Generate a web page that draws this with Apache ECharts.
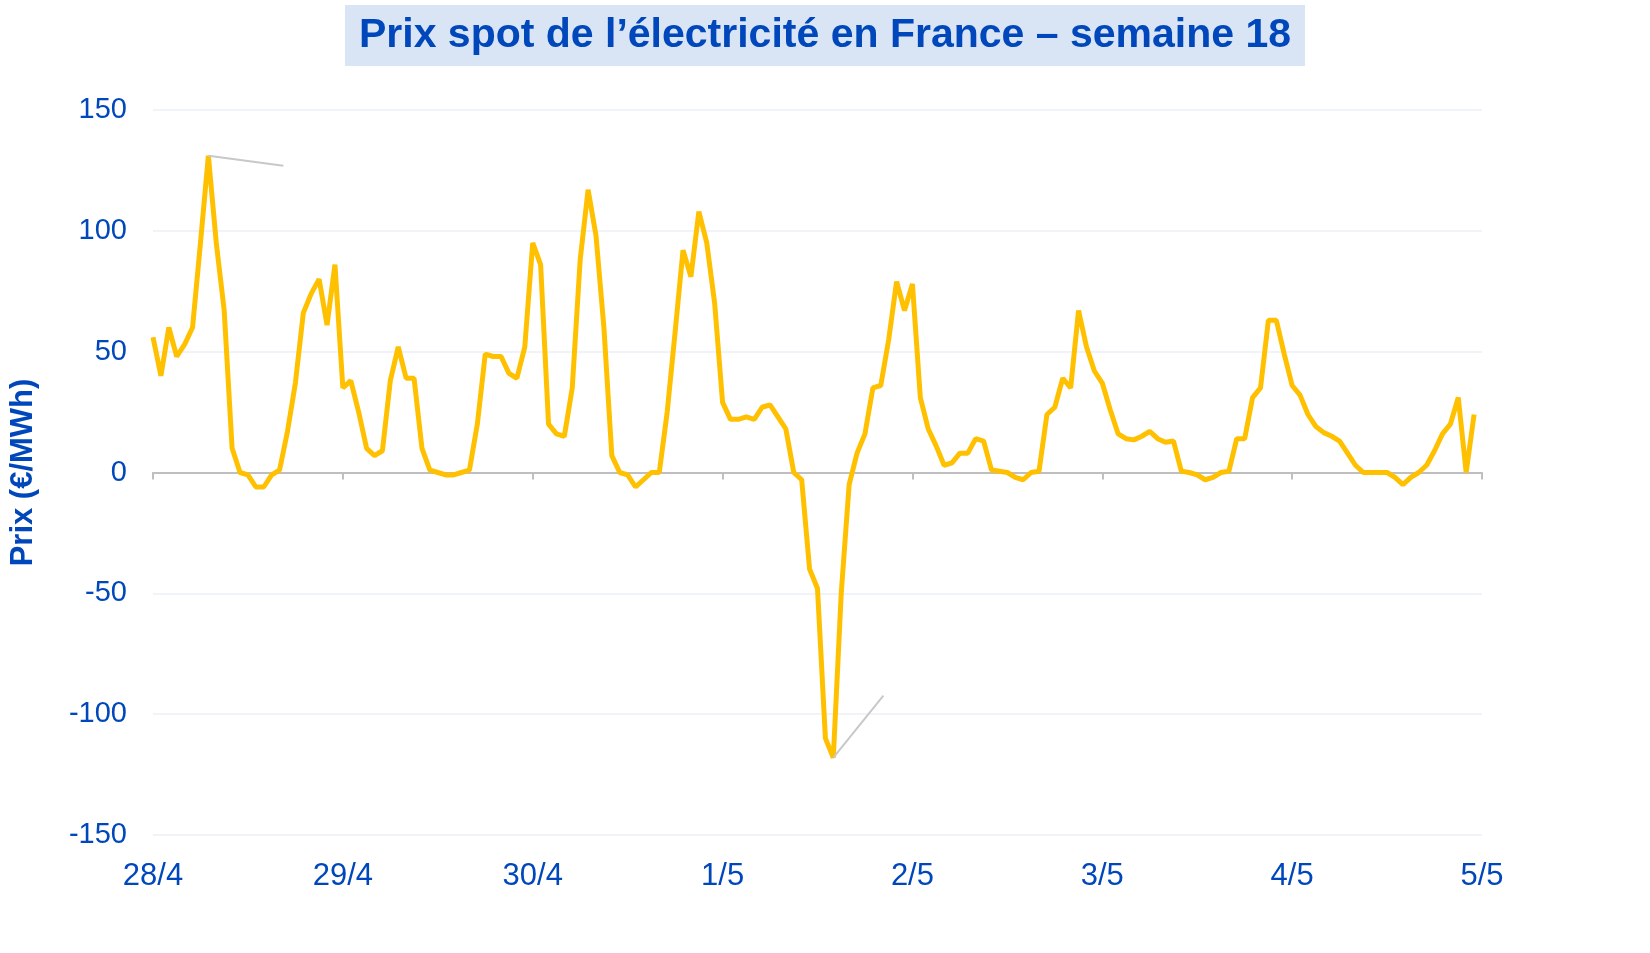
<!DOCTYPE html>
<html><head><meta charset="utf-8">
<script src="https://cdn.jsdelivr.net/npm/echarts@6/dist/echarts.min.js"></script>
<style>html,body{margin:0;padding:0;background:#fff}#c{width:1650px;height:953px}</style>
</head><body><div id="c"></div>
<script>
const dayLabels = ['28/4','29/4','30/4','1/5','2/5','3/5','4/5','5/5'];
const prices = [
56,40,60,48,53,60,95,131.09,95,67,10,0,-1,-6,-6,-1,1,17,37,66,74,80,61,86,
35,38,25,10,7,9,38,52,39,39,10,1,0,-1,-1,0,1,20,49,48,48,41,39,52,
95,86,20,16,15,35,88,117,98,60,7,0,-1,-6,-3,0,0,25,58,92,81,108,95,70,
29,22,22,23,22,27,28,23,18,0,-3,-40,-48,-110,-118.01,-50,-5,8,16,35,36,55,79,67,
78,31,18,11,3,4,8,8,14,13,1,0.5,0,-2,-3,0,0.5,24,27,39,35,67,52,42,
37,26,16,14,13.5,15,17,14,12.5,13,0.5,0,-1,-3,-2,0,0.5,14,14,31,35,63,63,49,
36,32,24,19,16.5,15,13,8,3,0,0,0,0,-2,-5,-2,0,3,9,16,20,31,0,24
];
const yTicks = [-150,-100,-50,0,50,100,150];
const maxIdx = prices.indexOf(Math.max(...prices));
const minIdx = prices.indexOf(Math.min(...prices));
const data = prices.map((v,i)=>{
  const p = {value:[i,v]};
  if(i===maxIdx||i===minIdx){
    p.label={show:true,formatter:v.toFixed(2).replace('.',','),position:'right',
      color:'#ffc000',fontSize:32,fontWeight:'bold',fontFamily:'Liberation Sans, Arial'};
    p.labelLine={show:true,lineStyle:{color:'#c8c8c8',width:2}};
  }
  return p;
});
const chart = echarts.init(document.getElementById('c'));
chart.setOption({
  animation:false,
  title:{text:'Prix spot de l’électricité en France – semaine 18',left:'center',top:5,
    backgroundColor:'#d9e4f5',padding:[10,14,10,14],
    textStyle:{color:'#0047bb',fontSize:41,fontWeight:'bold',fontFamily:'Liberation Sans, Arial'}},
  grid:{left:146,right:168,top:110,bottom:118},
  xAxis:{type:'value',min:0,max:168,interval:24,
    axisLine:{onZero:true,lineStyle:{color:'#bfbfbf',width:2}},
    axisTick:{show:true,length:7,lineStyle:{color:'#bfbfbf',width:2}},
    splitLine:{show:false},
    axisLabel:{formatter:v=>dayLabels[v/24],color:'#0047bb',fontSize:31,margin:26,fontFamily:'Liberation Sans, Arial'}},
  yAxis:{type:'value',min:-150,max:150,interval:50,
    name:'Prix (€/MWh)',nameLocation:'middle',nameGap:114,nameRotate:90,
    nameTextStyle:{color:'#0047bb',fontSize:31,fontWeight:'bold',fontFamily:'Liberation Sans, Arial'},
    axisLine:{show:false},axisTick:{show:false},
    splitLine:{lineStyle:{color:'#f0f3fa',width:2}},
    axisLabel:{color:'#0047bb',fontSize:29,margin:26,fontFamily:'Liberation Sans, Arial',
      formatter:v=>yTicks.includes(v)?String(v):''}},
  series:[{type:'line',data:data,symbol:'circle',symbolSize:0.1,showSymbol:true,
    itemStyle:{color:'#ffc000',opacity:0},
    lineStyle:{color:'#ffc000',width:5},
    labelLayout:function(p){
      if(p.dataIndex===maxIdx) return {dx:70,dy:10};
      if(p.dataIndex===minIdx) return {dx:45,dy:-62};
      return {};
    }
  }]
});
</script></body></html>
